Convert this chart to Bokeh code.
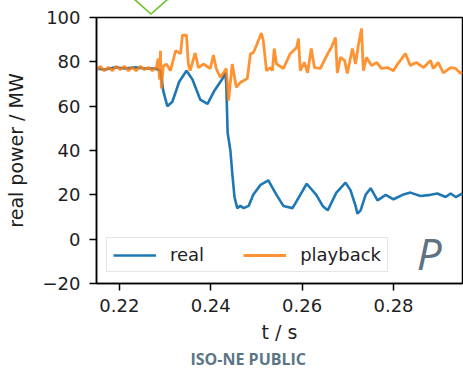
from bokeh.plotting import figure
from bokeh.models import Label, Legend, LegendItem, FixedTicker, Range1d, Div
from bokeh.layouts import column
from bokeh.embed import file_html
from bokeh.resources import INLINE

# ---- data ----
t_real = [0.2150, 0.2169, 0.2191, 0.2213, 0.2235, 0.2257, 0.2279, 0.2290, 0.2296, 0.2305,
          0.2316, 0.2331, 0.2347, 0.2360, 0.2377, 0.2393, 0.2408, 0.2426, 0.2432, 0.2434,
          0.2437, 0.2443, 0.2447, 0.2452, 0.2458, 0.2465, 0.2472, 0.2483, 0.2493, 0.2509,
          0.2526, 0.2544, 0.2559, 0.2579, 0.2596, 0.2610, 0.2631, 0.2645, 0.2656, 0.2675,
          0.2695, 0.2706, 0.2717, 0.2721, 0.2728, 0.2739, 0.2750, 0.2765, 0.2783, 0.2800,
          0.2820, 0.2837, 0.2859, 0.2881, 0.2896, 0.2914, 0.2925, 0.2936, 0.2951]
p_real = [77, 76.5, 77.5, 77, 77.5, 77, 77, 76, 67, 60,
          62, 71, 76, 72, 63, 61, 67, 72.5, 75, 70,
          48, 40, 30, 19, 14, 15, 14, 15, 20, 24.5,
          26.5, 20, 15, 14, 20, 25, 20, 15, 13, 21,
          25.5, 22, 15, 11.5, 13, 20, 23, 17.5, 20, 18,
          20, 21, 19.5, 20, 20.6, 19, 20.6, 19, 20.6]

t_play = [0.2150, 0.2158, 0.2167, 0.2176, 0.2185, 0.2193, 0.2202, 0.2211, 0.2220, 0.2228,
          0.2237, 0.2246, 0.2255, 0.2264, 0.2272, 0.2281, 0.2285, 0.2288, 0.2290, 0.2292,
          0.2296, 0.2303, 0.2312, 0.2323, 0.2334, 0.2338, 0.2347, 0.2351, 0.2355, 0.2366,
          0.2373, 0.2384, 0.2399, 0.2406, 0.2412, 0.2421, 0.2428, 0.2434, 0.2439, 0.2447,
          0.2456, 0.2465, 0.2480, 0.2487, 0.2493, 0.2500, 0.2511, 0.2515, 0.2522, 0.2531,
          0.2535, 0.2539, 0.2544, 0.2559, 0.2574, 0.2588, 0.2592, 0.2596, 0.2605, 0.2612,
          0.2620, 0.2627, 0.2640, 0.2656, 0.2664, 0.2673, 0.2677, 0.2684, 0.2693, 0.2699,
          0.2710, 0.2717, 0.2723, 0.2730, 0.2734, 0.2741, 0.2752, 0.2763, 0.2774, 0.2787,
          0.2800, 0.2809, 0.2826, 0.2837, 0.2850, 0.2866, 0.2881, 0.2887, 0.2898, 0.2909,
          0.2925, 0.2936, 0.2947, 0.2951]
p_play = [76, 78, 76, 77.5, 76, 78, 76.5, 78, 76, 77.5,
          76, 78, 76.5, 77.5, 76, 77.5, 81.5, 72, 85, 68,
          78, 79, 76, 85, 83.7, 92, 92, 79, 76, 84,
          77.4, 79, 77, 83, 77, 73, 75, 77, 62.5, 79,
          68.5, 70.7, 72.5, 83.7, 84, 87.4, 93, 89.6, 76, 77.4,
          76, 86, 79, 77, 83.7, 86.5, 90.5, 76, 79.7, 75,
          86, 77.4, 77, 83.7, 86.5, 91, 75, 82, 80.6, 74.7,
          86, 79, 87.4, 95, 76, 82, 78.3, 79.7, 77, 77.4,
          76, 79, 83.7, 78.3, 79.7, 77.4, 80.6, 77, 79.7, 75,
          77.4, 77, 74.7, 75.5]

x_ticks = [0.22, 0.24, 0.26, 0.28]
y_ticks = [-20, 0, 20, 40, 60, 80, 100]
series_names = ["real", "playback"]
x_label = "t / s"
y_label = "real power / MW"
footer = "ISO-NE PUBLIC"
corner_letter = "P"

TXT = "#1e1e1e"

# small green chevron decoration at the very top of the slide (overflows into the
# transparent top border of the figure below)
chevron = Div(text='<svg width="463" height="15" style="display:block;overflow:visible">'
                   '<polyline points="134,-1 151,14 168,-1" fill="none" '
                   'stroke="#6cbf2a" stroke-width="1.6"/></svg>',
              width=463, height=8, margin=0, styles={"overflow": "visible"})

p = figure(width=463, height=361, output_backend="svg", toolbar_location=None,
           min_border_left=96, min_border_right=1, min_border_top=9, min_border_bottom=86,
           x_range=Range1d(0.215, 0.2951), y_range=Range1d(-20, 100),
           title=footer, title_location="below", margin=0)

r_real = p.line(t_real, p_real, line_color="#1f77b4", line_width=2.6)
r_play = p.line(t_play, p_play, line_color="#ff7f0e", line_width=2.8, line_alpha=0.85)

p.title.text_font = "Open Sans"
p.title.text_font_style = "bold"
p.title.text_font_size = "16px"
p.title.text_color = "#5b7585"
p.title.align = "left"
p.title.offset = 94
p.title.standoff = 0

p.xgrid.visible = False
p.ygrid.visible = False
p.outline_line_color = "black"
p.outline_line_width = 1.5
p.outline_line_alpha = 1
p.background_fill_color = "white"
p.border_fill_alpha = 0

p.xaxis.ticker = FixedTicker(ticks=x_ticks)
p.yaxis.ticker = FixedTicker(ticks=y_ticks)
p.yaxis.major_label_overrides = {-20: "\u221220"}

for ax in (p.xaxis[0], p.yaxis[0]):
    ax.axis_line_color = "black"
    ax.axis_line_width = 1.5
    ax.major_tick_line_color = "black"
    ax.major_tick_line_width = 1.5
    ax.major_tick_in = 0
    ax.major_tick_out = 7
    ax.minor_tick_line_color = None
    ax.major_label_text_font = "DejaVu Sans"
    ax.major_label_text_font_size = "18px"
    ax.major_label_text_color = TXT
    ax.axis_label_text_font = "DejaVu Sans"
    ax.axis_label_text_font_size = "19px"
    ax.axis_label_text_font_style = "normal"
    ax.axis_label_text_color = TXT

p.xaxis.axis_label = x_label
p.yaxis.axis_label = y_label
p.xaxis.major_label_standoff = 8
p.yaxis.major_label_standoff = 9
p.xaxis.axis_label_standoff = 6
p.yaxis.axis_label_standoff = 13

legend = Legend(items=[LegendItem(label=series_names[0], renderers=[r_real]),
                       LegendItem(label=series_names[1], renderers=[r_play])],
                orientation="horizontal", location=(10, 11))
legend.label_text_font = "DejaVu Sans"
legend.label_text_font_size = "18px"
legend.label_text_color = TXT
legend.glyph_width = 43
legend.label_standoff = 14
legend.spacing = 39
legend.padding = 6
legend.margin = 0
legend.border_line_color = "#cccccc"
legend.border_line_width = 1
legend.background_fill_color = "white"
legend.background_fill_alpha = 0.8
p.add_layout(legend, "center")

p.add_layout(Label(x=0.2851, y=-6.3, text=corner_letter, text_font="Open Sans",
                   text_font_style="italic", text_font_size="44px", text_color="#5d7282",
                   text_baseline="alphabetic", text_align="left"))

layout = column(chevron, p, spacing=0)
open("out.html", "w").write(file_html(layout, INLINE))
